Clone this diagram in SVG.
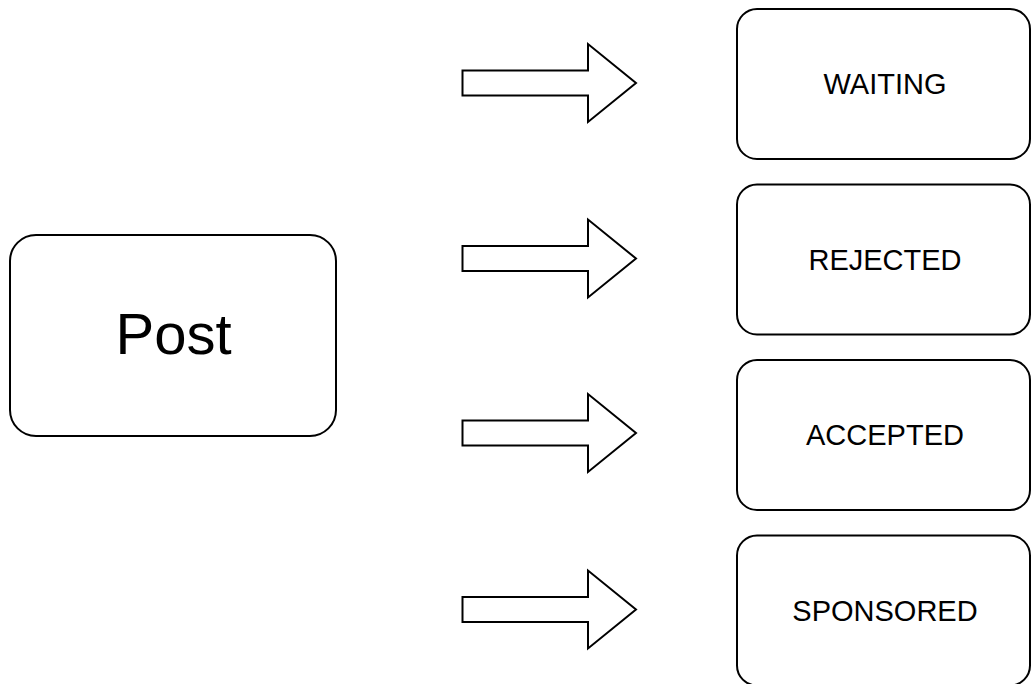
<svg xmlns="http://www.w3.org/2000/svg" width="1031" height="684" viewBox="0 0 1031 684">
<defs>
<style>
.box{fill:#fff;stroke:#000;stroke-width:2}
.arrow{fill:#fff;stroke:#000;stroke-width:2;stroke-linejoin:miter}
.lbl{font-family:"Liberation Sans",Arial,sans-serif;font-size:29px;fill:#000;text-anchor:middle}
.big{font-family:"Liberation Sans",Arial,sans-serif;font-size:58px;fill:#000;text-anchor:middle}
</style>
<path id="arr" d="M462.5,-12.5 H588 V-39 L636,0 L588,39 V12.5 H462.5 Z"/>
</defs>
<rect width="1031" height="684" fill="#fff"/>
<g id="post">
<rect class="box" x="10" y="235" width="326" height="201" rx="26" ry="26"/>
<text class="big" x="173.5" y="354">Post</text>
</g>
<g id="connectors">
<use href="#arr" class="arrow" transform="translate(0,83)"/>
<use href="#arr" class="arrow" transform="translate(0,258.5)"/>
<use href="#arr" class="arrow" transform="translate(0,433)"/>
<use href="#arr" class="arrow" transform="translate(0,609.5)"/>
</g>
<g id="waiting">
<rect class="box" x="737" y="9" width="293" height="150" rx="20" ry="20"/>
<text class="lbl" x="885" y="94">WAITING</text>
</g>
<g id="rejected">
<rect class="box" x="737" y="184.5" width="293" height="150" rx="20" ry="20"/>
<text class="lbl" x="885" y="269.5">REJECTED</text>
</g>
<g id="accepted">
<rect class="box" x="737" y="360" width="293" height="150" rx="20" ry="20"/>
<text class="lbl" x="885" y="445">ACCEPTED</text>
</g>
<g id="sponsored">
<rect class="box" x="737" y="535.5" width="293" height="150" rx="20" ry="20"/>
<text class="lbl" x="885" y="620.5">SPONSORED</text>
</g>
</svg>
